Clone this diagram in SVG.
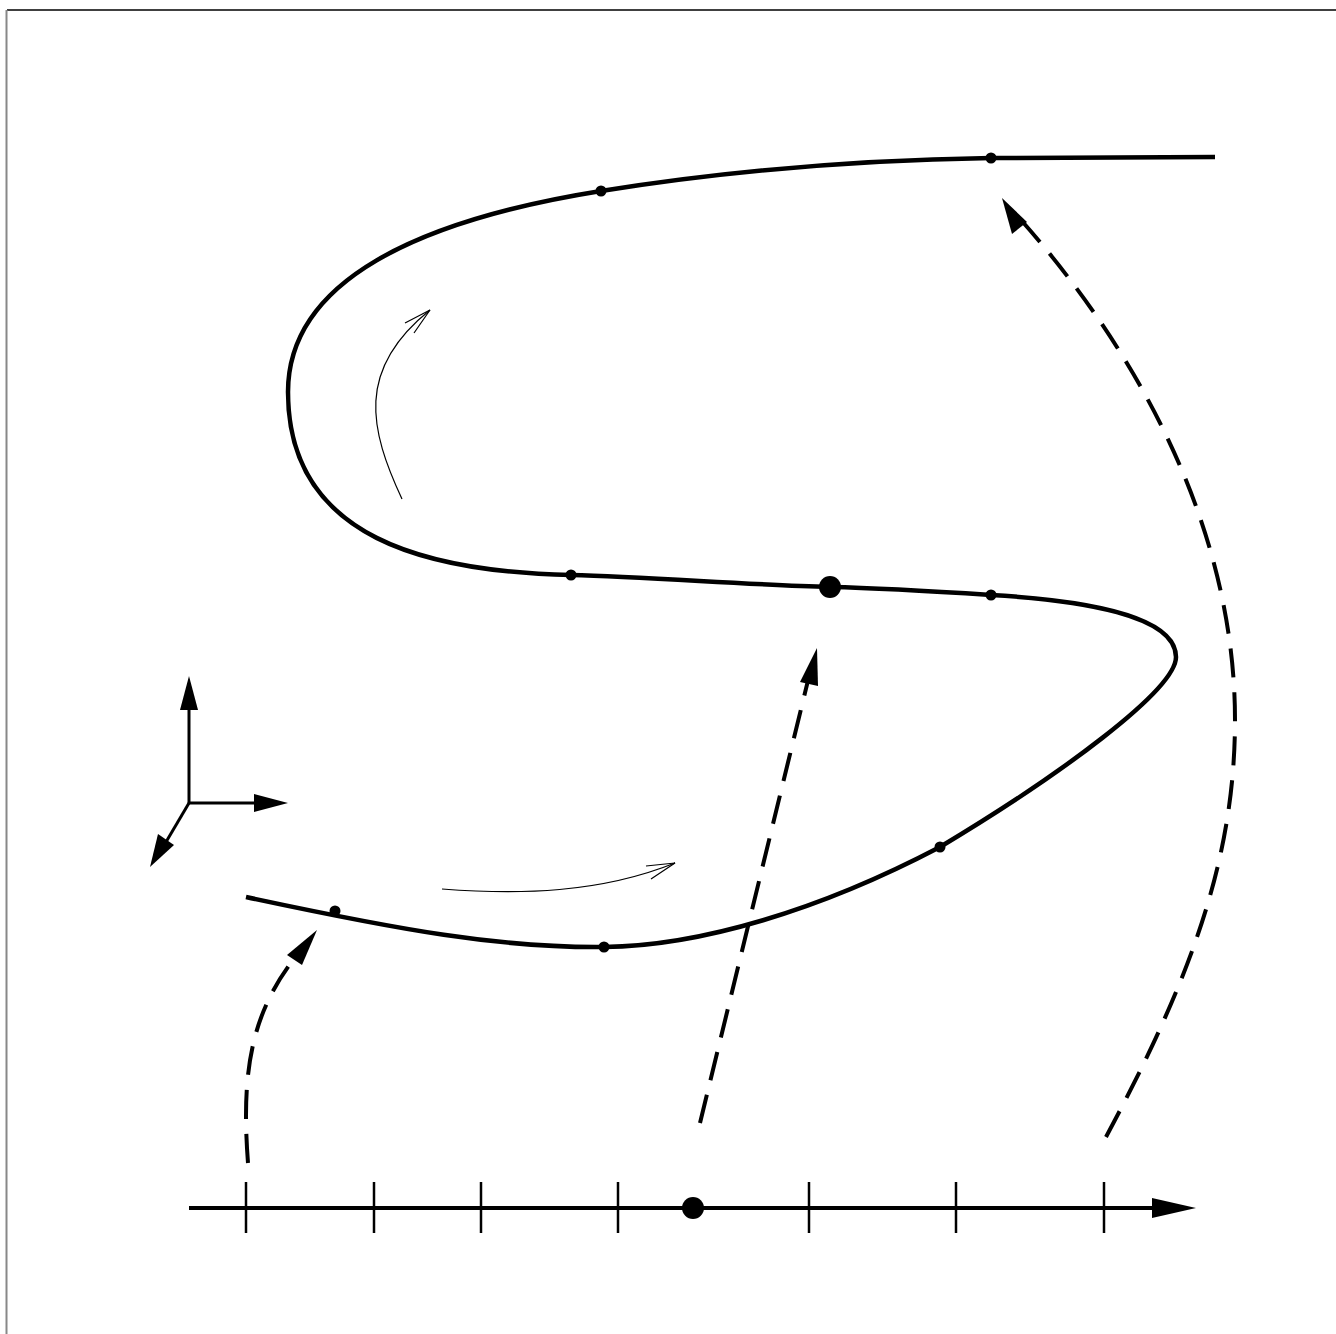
<svg xmlns="http://www.w3.org/2000/svg" width="1336" height="1334" viewBox="0 0 1336 1334">
<style>
.curve{fill:none;stroke:#000;stroke-width:4.5}
.thin{fill:none;stroke:#000;stroke-width:1.2}
.dash{fill:none;stroke:#000;stroke-width:4;stroke-dasharray:29 15}
.ax{fill:none;stroke:#000;stroke-width:3}
.tick{stroke:#000;stroke-width:2.5}
</style>
<rect width="1336" height="1334" fill="#fff"/>
<line x1="7" y1="10" x2="1336" y2="10" stroke="#000" stroke-width="1.5"/>
<line x1="6.5" y1="10" x2="6.5" y2="1334" stroke="#888" stroke-width="2"/>
<g id="curve">
<path class="curve" d="M246,897 C400,930 500,948 604,947 C700,946 820,910 940,847 C1060,775 1176,690 1176,657 C1176,615 1080,600 991,595 C930,591 880,588 830,587 C750,585 650,577 571,575 C430,572 288,540 288,392 C288,280 420,220 601,191 C720,172 850,160 991,158 L1215,157"/>
</g>
<g id="points">
<circle cx="335" cy="911" r="5.5"/>
<circle cx="604" cy="947" r="5.5"/>
<circle cx="940" cy="847" r="5.5"/>
<circle cx="991" cy="595" r="5.5"/>
<circle cx="830" cy="587" r="11"/>
<circle cx="571" cy="575" r="5.5"/>
<circle cx="601" cy="191" r="5.5"/>
<circle cx="991" cy="158" r="5.5"/>
</g>
<g id="connectors">
<path class="thin" d="M402,499 C370,430 355,370 430,310"/>
<path class="thin" d="M405,323 L430,310 L414,333"/>
<path class="thin" d="M442,889 C520,895 600,893 675,863"/>
<path class="thin" d="M646,866 L675,863 L651,879"/>
<path class="dash" d="M248,1163 C240,1060 255,1000 310,940"/>
<path d="M317,930 L287,955 L302,965 Z"/>
<path class="dash" d="M700,1123 L813,660"/>
<path d="M817,648 L800,682 L818,686 Z"/>
<path class="dash" d="M1106,1137 C1190,980 1235,860 1235,720 C1235,520 1130,340 1012,210"/>
<path d="M1002,198 L1012,234 L1027,222 Z"/>
</g>
<g id="axes">
<line class="ax" x1="189" y1="803" x2="189" y2="705"/>
<path d="M189,676 L180,710 L198,710 Z"/>
<line class="ax" x1="189" y1="803" x2="258" y2="803"/>
<path d="M288,803 L254,794 L254,812 Z"/>
<line class="ax" x1="189" y1="803" x2="166" y2="842"/>
<path d="M150,867 L158,834 L174,845 Z"/>
</g>
<g id="numberline">
<line class="ax" x1="189" y1="1208" x2="1160" y2="1208" style="stroke-width:4"/>
<path d="M1196,1208 L1152,1198 L1152,1218 Z"/>
<line class="tick" x1="246" y1="1182" x2="246" y2="1233"/>
<line class="tick" x1="374" y1="1182" x2="374" y2="1233"/>
<line class="tick" x1="481" y1="1182" x2="481" y2="1233"/>
<line class="tick" x1="618" y1="1182" x2="618" y2="1233"/>
<line class="tick" x1="809" y1="1182" x2="809" y2="1233"/>
<line class="tick" x1="956" y1="1182" x2="956" y2="1233"/>
<line class="tick" x1="1104" y1="1182" x2="1104" y2="1233"/>
<circle cx="693" cy="1208" r="11"/>
</g>
</svg>
